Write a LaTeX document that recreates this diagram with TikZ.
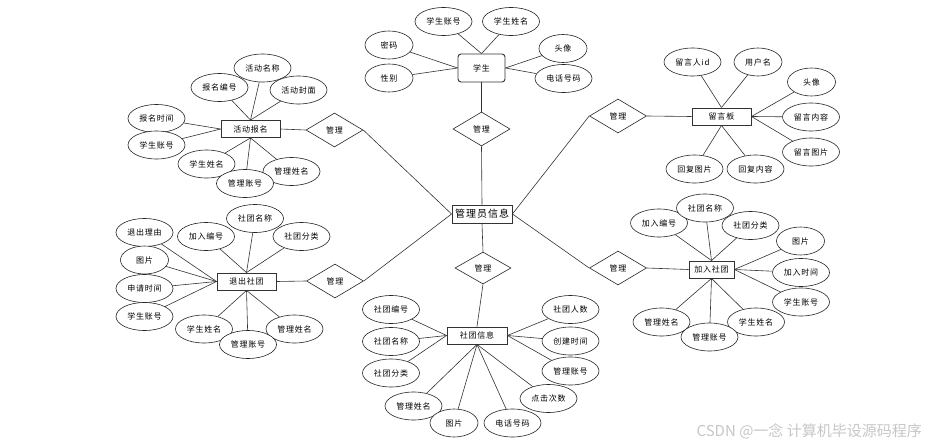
\documentclass[tikz,border=0pt]{standalone}
\usepackage{fontspec}
\setmainfont[LetterSpace=10]{Noto Sans CJK SC}
\newfontfamily\wmfont{Noto Sans CJK SC}
\usepackage{tikz}
\usetikzlibrary{shapes.geometric}

\begin{document}
\begin{tikzpicture}[
    x=1pt,y=-1pt,
    ent/.style  = {rectangle,draw=black!80,line width=0.9pt,fill=white,
                   font=\fontsize{8}{9}\selectfont,minimum width=59pt,
                   minimum height=17pt,inner sep=1pt},
    attr/.style = {ellipse,draw=black!85,line width=0.6pt,fill=white,
                   font=\fontsize{8}{9}\selectfont,minimum width=57pt,
                   minimum height=28pt,inner sep=0pt},
    sm/.style   = {attr,minimum width=48pt},
    rel/.style  = {diamond,draw=black!85,line width=0.6pt,fill=white,aspect=1.7,
                   inner sep=0pt,minimum width=57pt,minimum height=34pt,
                   font=\fontsize{8}{9}\selectfont},
    ln/.style   = {black!80,line width=0.6pt},
  ]

  \fill[white] (0,0) rectangle (927,447);
  \useasboundingbox (0,0) rectangle (927,447);

  % centre
  \node[ent,font=\fontsize{10}{12}\selectfont,minimum width=60pt,minimum height=18pt]
       (adm) at (482,214) {管理员信息};

  % 学生
  \node[ent,rounded corners=3pt,minimum width=47pt,minimum height=28pt] (stu) at (481.5,68) {学生};
  \node[attr] (stu1) at (443.5,21.5) {学生账号};
  \node[attr] (stu2) at (511,21.5)   {学生姓名};
  \node[sm]   (stu3) at (389,45)     {密码};
  \node[sm]   (stu4) at (389,78)     {性别};
  \node[sm]   (stu5) at (563,48.5)   {头像};
  \node[attr] (stu6) at (563.5,78.5) {电话号码};
  \node[rel]  (rStu) at (481.5,129)  {管理};

  % 活动报名
  \node[ent]  (act)  at (250.5,129)  {活动报名};
  \node[attr] (act1) at (262.5,68)   {活动名称};
  \node[attr] (act2) at (219.5,87.5) {报名编号};
  \node[attr] (act3) at (298.5,90)   {活动封面};
  \node[attr] (act4) at (156.5,118.5){报名时间};
  \node[attr] (act5) at (156.5,145)  {学生账号};
  \node[attr] (act6) at (206.5,164)  {学生姓名};
  \node[attr] (act8) at (291.5,171.5){管理姓名};
  \node[attr] (act7) at (245,183.5)  {管理账号};
  \node[rel]  (rAct) at (334.5,130)  {管理};

  % 留言板
  \node[ent]  (msg)  at (721.5,116.5){留言板};
  \node[attr] (msg1) at (692.5,62)   {留言人id};
  \node[sm]   (msg2) at (758,62)     {用户名};
  \node[sm]   (msg3) at (811.5,82)   {头像};
  \node[attr] (msg4) at (811,117)    {留言内容};
  \node[attr] (msg5) at (811,152)    {留言图片};
  \node[attr] (msg6) at (694.5,169)  {回复图片};
  \node[attr] (msg7) at (755.5,169)  {回复内容};
  \node[rel]  (rMsg) at (618,116)    {管理};

  % 退出社团
  \node[ent]  (quit) at (246.5,281.5){退出社团};
  \node[attr] (q1)   at (144.5,232.5){退出理由};
  \node[attr] (q2)   at (206,236.5)  {加入编号};
  \node[attr] (q3)   at (255,218.5)  {社团名称};
  \node[attr] (q4)   at (301.5,236.5){社团分类};
  \node[sm]   (q5)   at (144.5,260)  {图片};
  \node[attr] (q6)   at (144.5,288.5){申请时间};
  \node[attr] (q7)   at (144.5,316.5){学生账号};
  \node[attr] (q8)   at (204,329)    {学生姓名};
  \node[attr] (q10)  at (294.5,329)  {管理姓名};
  \node[attr] (q9)   at (248,344.5)  {管理账号};
  \node[rel]  (rQuit) at (335,281)   {管理};

  % 加入社团
  \node[ent,minimum width=45pt] (join) at (711.5,269.5) {加入社团};
  \node[attr] (j1)   at (659,223)    {加入编号};
  \node[attr] (j2)   at (705,208)    {社团名称};
  \node[attr] (j3)   at (750.5,225.5){社团分类};
  \node[sm]   (j4)   at (800.5,241)  {图片};
  \node[attr] (j5)   at (801,272.5)  {加入时间};
  \node[attr] (j6)   at (801,302)    {学生账号};
  \node[attr] (j7)   at (756,322)    {学生姓名};
  \node[attr] (j9)   at (661.5,322)  {管理姓名};
  \node[attr] (j8)   at (709.5,337)  {管理账号};
  \node[rel]  (rJoin) at (618,268)   {管理};

  % 社团信息
  \node[ent,minimum width=60pt] (club) at (477,335.5) {社团信息};
  \node[attr] (c1)   at (391,309.5)  {社团编号};
  \node[attr] (c2)   at (391,341.5)  {社团名称};
  \node[attr] (c3)   at (391,373)    {社团分类};
  \node[attr] (c4)   at (413.5,406)  {管理姓名};
  \node[sm]   (c5)   at (454,423)    {图片};
  \node[attr] (c6)   at (512.5,423)  {电话号码};
  \node[attr] (c7)   at (548.5,398.5){点击次数};
  \node[attr] (c8)   at (570.5,371)  {管理账号};
  \node[attr] (c9)   at (570.5,341)  {创建时间};
  \node[attr] (c10)  at (570.5,309.5){社团人数};
  \node[rel,minimum width=56pt,minimum height=32pt] (rClub) at (483,268) {管理};

  % attributes
  \foreach \a/\b in {stu1/stu.north,stu2/stu.north,stu3/stu.west,stu4/stu.west,
                     stu5/stu.east,stu6/stu.east,
                     act1/act.north,act2/act.north,act3/act.north,act4/act.west,
                     act5/act.west,act6/act.south,act7/act.south,act8/act.south,
                     msg1/msg.north,msg2/msg.north,msg3/msg.east,msg4/msg.east,
                     msg5/msg.east,msg6/msg.south,msg7/msg.south,
                     q1/quit.west,q5/quit.west,q6/quit.west,q7/quit.west,
                     q2/quit.north,q3/quit.north,q4/quit.north,
                     q8/quit.south,q9/quit.south,q10/quit.south,
                     j1/join.north,j2/join.north,j3/join.north,j4/join.east,
                     j5/join.east,j6/join.east,j7/join.south,j8/join.south,
                     j9/join.south,
                     c1/club.west,c2/club.west,c3/club.west,c8/club.east,
                     c9/club.east,c10/club.east,c4/club.south,c5/club.south,
                     c6/club.south,c7/club.south}
    \draw[ln] (\a) -- (\b);

  % relations
  \draw[ln] (stu.south) -- (rStu.north);
  \draw[ln] (rStu.south) -- (adm.north);
  \draw[ln] (act.east) -- (rAct.west);
  \draw[ln] (rAct.east) -- (adm.west);
  \draw[ln] (adm.east) -- (rMsg.west);
  \draw[ln] (rMsg.east) -- (msg.west);
  \draw[ln] (quit.east) -- (rQuit.west);
  \draw[ln] (rQuit.east) -- (adm.west);
  \draw[ln] (adm.east) -- (rJoin.west);
  \draw[ln] (rJoin.east) -- (join.west);
  \draw[ln] (adm.south) -- (rClub.north);
  \draw[ln] (rClub.south) -- (club.north);

  \node[font=\wmfont\fontsize{15}{17}\selectfont,text=black!22,anchor=east,inner sep=0pt]
       (wm) at (922,431) {CSDN @一念 计算机毕设源码程序};

\end{tikzpicture}
\end{document}
